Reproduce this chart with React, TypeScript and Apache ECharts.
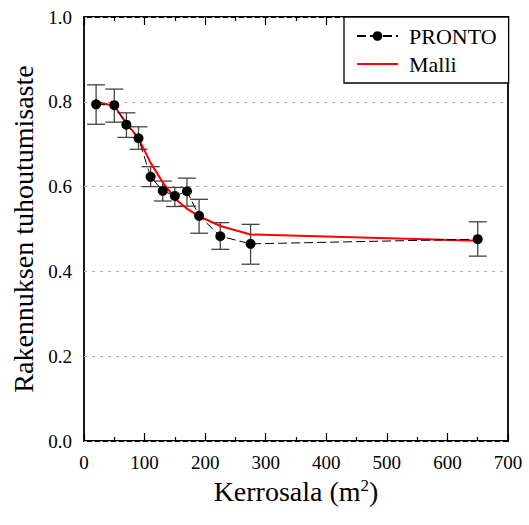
import React, { useEffect, useRef } from "react";
import * as echarts from "echarts";

const areaX = [20, 50, 70, 90, 110, 130, 150, 170, 190, 225, 275, 650];
const prontoY = [0.794, 0.792, 0.746, 0.714, 0.623, 0.59, 0.578, 0.589, 0.531, 0.483, 0.465, 0.476];
const errLow = [0.747, 0.752, 0.716, 0.688, 0.6, 0.566, 0.553, 0.554, 0.49, 0.452, 0.417, 0.436];
const errHigh = [0.84, 0.83, 0.774, 0.741, 0.647, 0.613, 0.598, 0.62, 0.57, 0.515, 0.511, 0.517];
const malliY = [0.8, 0.79, 0.75, 0.714, 0.656, 0.61, 0.572, 0.548, 0.53, 0.507, 0.487, 0.472];

const FONT = "Liberation Serif";

export default function App() {
  const ref = useRef<HTMLDivElement>(null);
  useEffect(() => {
    if (!ref.current) return;
    const chart = echarts.init(ref.current, null, { renderer: "svg" });
    const errData = areaX.map((x, i) => [x, errLow[i], errHigh[i]]);
    const tickCommon = {
      axisTick: { show: true, inside: true, length: 8, lineStyle: { color: "#000", width: 1.2 } },
      minorTick: { show: true, inside: true, splitNumber: 2, length: 4, lineStyle: { color: "#000", width: 1.2 } },
    };
    chart.setOption({
      animation: false,
      backgroundColor: "#fff",
      textStyle: { fontFamily: FONT, color: "#000" },
      grid: { left: 84, right: 21, top: 17, bottom: 84, show: true, borderColor: "#000", borderWidth: 1.8, backgroundColor: "transparent" },
      legend: {
        data: [{ name: "PRONTO" }, { name: "Malli", itemStyle: { opacity: 0 } }],
        orient: "vertical",
        left: 344,
        top: 17,
        backgroundColor: "#fff",
        borderColor: "#000",
        borderWidth: 1.3,
        borderRadius: 0,
        padding: [8, 12, 8, 12],
        itemGap: 6,
        itemWidth: 41,
        itemHeight: 12,
        textStyle: { fontFamily: FONT, fontSize: 22, color: "#000", padding: [0, 0, 0, 6] },
      },
      xAxis: [
        {
          type: "value",
          min: 0,
          max: 700,
          interval: 100,
          position: "bottom",
          axisLine: { show: false },
          ...tickCommon,
          splitLine: { show: false },
          axisLabel: { fontFamily: FONT, fontSize: 19, color: "#000", margin: 12 },
          name: "Kerrosala (m{sup|2})",
          nameLocation: "middle",
          nameGap: 36,
          nameTextStyle: {
            fontFamily: FONT,
            fontSize: 28,
            color: "#000",
            rich: { sup: { fontFamily: FONT, fontSize: 17, color: "#000", verticalAlign: "top", lineHeight: 14 } },
          },
        },
        {
          type: "value",
          min: 0,
          max: 700,
          interval: 100,
          position: "top",
          axisLine: { show: false },
          ...tickCommon,
          splitLine: { show: false },
          axisLabel: { show: false },
        },
      ],
      yAxis: {
        type: "value",
        min: 0,
        max: 1,
        interval: 0.2,
        axisLine: { show: false },
        axisTick: { show: false },
        axisLabel: { fontFamily: FONT, fontSize: 19, color: "#000", margin: 12, formatter: (v: number) => v.toFixed(1) },
        splitLine: { show: true, lineStyle: { color: "#aaa", type: [3, 5], width: 1 } },
        name: "Rakennuksen tuhoutumisaste",
        nameLocation: "middle",
        nameGap: 34,
        nameRotate: 90,
        nameTextStyle: { fontFamily: FONT, fontSize: 28, color: "#000" },
      },
      series: [
        {
          type: "custom",
          name: "err",
          z: 1,
          data: errData,
          renderItem: (params: any, api: any) => {
            const x = api.value(0);
            const lo = api.coord([x, api.value(1)]);
            const hi = api.coord([x, api.value(2)]);
            const w = 9;
            const style = { stroke: "#444", lineWidth: 1.3 };
            return {
              type: "group",
              children: [
                { type: "line", shape: { x1: lo[0], y1: lo[1], x2: hi[0], y2: hi[1] }, style },
                { type: "line", shape: { x1: lo[0] - w, y1: lo[1], x2: lo[0] + w, y2: lo[1] }, style },
                { type: "line", shape: { x1: hi[0] - w, y1: hi[1], x2: hi[0] + w, y2: hi[1] }, style },
              ],
            };
          },
        },
        {
          type: "line",
          name: "Malli",
          z: 2,
          data: areaX.map((x, i) => [x, malliY[i]]),
          showSymbol: false,
          symbol: "none",
          lineStyle: { color: "#f00", width: 2 },
          itemStyle: { color: "#f00" },
        },
        {
          type: "line",
          name: "PRONTO",
          z: 3,
          data: areaX.map((x, i) => [x, prontoY[i]]),
          symbol: "circle",
          symbolSize: 10,
          lineStyle: { color: "#000", width: 1, type: [9, 4] },
          itemStyle: { color: "#000" },
        },
      ],
    });
    return () => chart.dispose();
  }, []);
  return <div ref={ref} style={{ width: 529, height: 525, position: "absolute", left: 0, top: 0 }} />;
}
